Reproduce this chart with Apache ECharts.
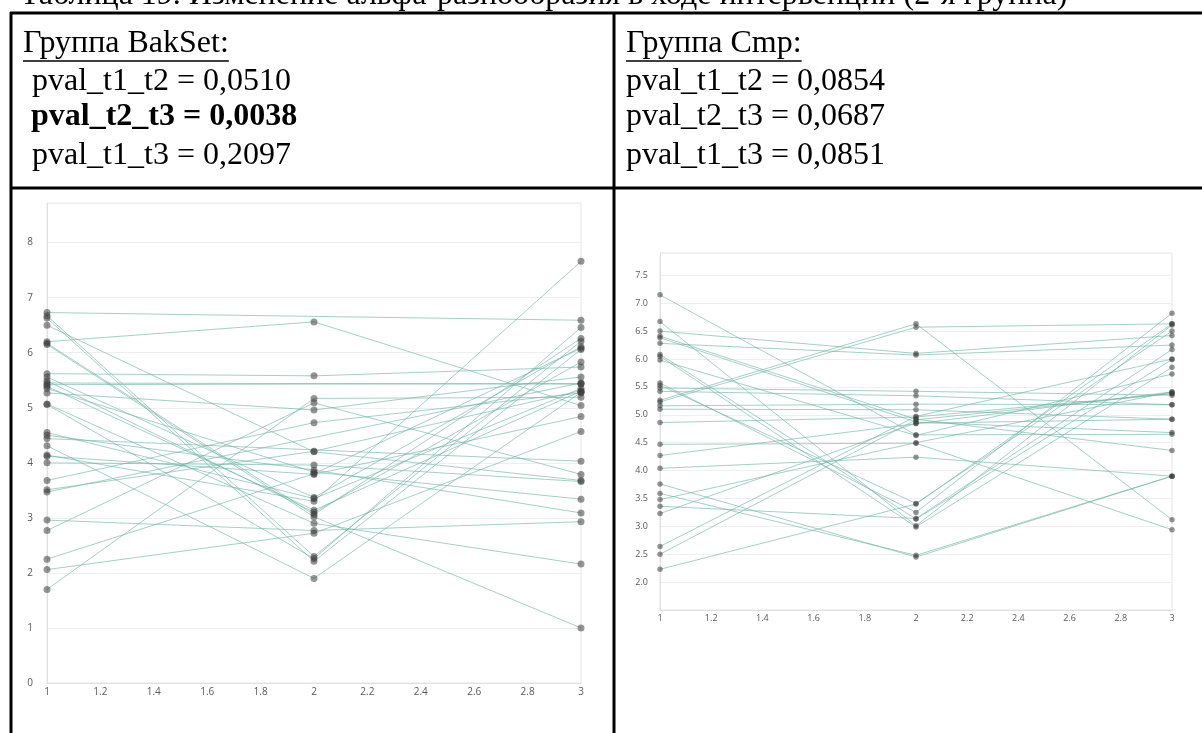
<!DOCTYPE html>
<html><head><meta charset="utf-8">
<script src="https://cdn.jsdelivr.net/npm/echarts@6/dist/echarts.min.js"></script>
<style>html,body{margin:0;padding:0;background:#fff}#c{width:1202px;height:733px}</style>
</head><body><div id="c"></div>
<script>
// ---- data ----
const titleText = 'Таблица 19. Изменение альфа-разнообразия в ходе интервенции (2-я группа)';
const leftHeader = 'Группа BakSet:';
const leftLines = [' pval_t1_t2 = 0,0510', 'pval_t2_t3 = 0,0038', ' pval_t1_t3 = 0,2097'];
const rightHeader = 'Группа Cmp:';
const rightLines = ['pval_t1_t2 = 0,0854', 'pval_t2_t3 = 0,0687', 'pval_t1_t3 = 0,0851'];

const timePoints = [1, 2, 3];

const bakT1 = [6.73,6.67,6.63,6.50,6.20,6.17,6.15,5.62,5.56,5.49,5.45,5.42,5.39,5.35,5.27,5.07,5.06,4.55,4.50,4.44,4.31,4.14,4.12,4.00,3.68,3.51,3.47,2.96,2.77,2.25,2.06,1.70];
const bakT2 = [null,2.30,2.21,4.20,6.56,3.06,3.02,5.58,3.37,3.10,null,null,3.14,3.83,4.96,2.90,2.26,3.35,3.87,null,1.90,3.30,3.79,3.96,4.73,4.21,null,2.77,5.09,3.80,2.72,5.17];
const bakT3 = [6.59,6.21,6.06,3.68,5.04,6.26,1.00,5.74,6.11,5.83,5.43,5.44,5.30,3.34,5.56,2.16,6.46,5.35,3.09,4.03,5.28,7.66,4.84,3.66,5.27,5.31,5.45,2.93,3.79,6.08,4.57,5.19];

const cmpT1 = [7.15,6.67,6.50,6.41,6.38,6.28,6.08,6.05,5.98,5.57,5.53,5.48,5.42,5.26,5.23,5.16,5.10,4.86,4.47,4.27,4.04,3.76,3.59,3.48,3.36,3.23,2.64,2.50,2.23];
const cmpT2 = [4.64,3.01,6.10,4.92,4.87,6.07,3.13,2.99,4.63,3.25,3.41,5.42,5.34,6.63,6.57,5.19,5.09,4.96,4.49,4.84,4.24,2.45,2.48,4.50,3.14,4.85,4.97,4.91,3.40];
const cmpT3 = [4.65,6.61,6.42,4.36,4.68,6.25,5.99,5.85,5.73,6.82,6.50,5.35,5.18,3.12,6.63,5.18,4.92,5.38,2.94,5.41,3.90,3.90,3.90,5.41,6.17,4.92,6.00,5.38,6.63];

const bakXTicks = {min: 1, max: 3, interval: 0.2};
const bakYTicks = {min: 0, max: 8.72, interval: 1};
const cmpXTicks = {min: 1, max: 3, interval: 0.2};
const cmpYTicks = {min: 1.5, max: 7.9, interval: 0.5};

// ---- build ----
const LINE_COLOR = 'rgba(110,178,162,0.62)';
const DOT_COLOR = 'rgba(60,60,60,0.68)';
const SERIF = '"Liberation Serif","Times New Roman",serif';
const SANS = '"Open Sans","Noto Sans",sans-serif';

function rowsToSeries(t1, t2, t3, axisIdx, sym) {
  const out = [];
  const cols = [t1, t2, t3];
  for (let i = 0; i < t1.length; i++) {
    const pts = [];
    cols.forEach((c, k) => { if (c[i] != null) pts.push([timePoints[k], c[i]]); });
    out.push({type: 'line', xAxisIndex: axisIdx, yAxisIndex: axisIdx, data: pts,
      showSymbol: false, silent: true, z: 2,
      lineStyle: {color: LINE_COLOR, width: 1}});
  }
  const dots = [];
  cols.forEach((c, k) => c.forEach(v => { if (v != null) dots.push([timePoints[k], v]); }));
  out.push({type: 'scatter', xAxisIndex: axisIdx, yAxisIndex: axisIdx, data: dots,
    symbolSize: sym, z: 3, silent: true, itemStyle: {color: DOT_COLOR}});
  return out;
}

function measure(text, font) {
  const ctx = document.createElement('canvas').getContext('2d');
  ctx.font = font; return ctx.measureText(text).width;
}

const FS = 32;
const fontN = FS + 'px ' + SERIF;
const fontB = 'bold ' + FS + 'px ' + SERIF;

const graphics = [];
function txt(x, y, s, font) {
  graphics.push({type: 'text', x: x, y: y, silent: true,
    style: {text: s, font: font, fill: '#000', verticalAlign: 'middle', align: 'left'}});
}
function ln(x1, y1, x2, y2, w) {
  graphics.push({type: 'line', silent: true, shape: {x1, y1, x2, y2},
    style: {stroke: '#000', lineWidth: w}});
}
// title (cut off at top)
txt(20, -4, titleText, fontN);
// table borders
ln(10, 13, 1202, 13, 3);
ln(11, 12, 11, 733, 3);
ln(614, 12, 614, 733, 3);
ln(10, 188, 1202, 188, 3);
// cell text (vertical middles)
const lineY = [44, 82, 117, 156];
txt(23, lineY[0], leftHeader, fontN);
const lw = measure(leftHeader, fontN);
ln(23, 61, 23 + lw, 61, 1.5);
txt(24, lineY[1], leftLines[0], fontN);
txt(31, lineY[2], leftLines[1], fontB);
txt(24, lineY[3], leftLines[2], fontN);
txt(626, lineY[0], rightHeader, fontN);
const rw = measure(rightHeader, fontN);
ln(626, 61, 626 + rw, 61, 1.5);
txt(626, lineY[1], rightLines[0], fontN);
txt(626, lineY[2], rightLines[1], fontN);
txt(626, lineY[3], rightLines[2], fontN);

function fmtTick(v) { return String(+v.toFixed(1)); }

const option = {
  animation: false,
  backgroundColor: '#fff',
  grid: [
    {left: 47, right: 1202 - 581, top: 203, bottom: 733 - 683, show: true, borderColor: '#e6e6e6', borderWidth: 1, containLabel: false},
    {left: 660, right: 1202 - 1172, top: 253, bottom: 733 - 610, show: true, borderColor: '#e6e6e6', borderWidth: 1, containLabel: false}
  ],
  xAxis: [
    {type: 'value', gridIndex: 0, min: bakXTicks.min, max: bakXTicks.max, interval: bakXTicks.interval,
     axisLine: {show: true, lineStyle: {color: '#e0e0e0'}}, axisTick: {show: false}, splitLine: {show: false},
     axisLabel: {color: '#595959', fontSize: 10, fontFamily: SANS, margin: 4, formatter: fmtTick}},
    {type: 'value', gridIndex: 1, min: cmpXTicks.min, max: cmpXTicks.max, interval: cmpXTicks.interval,
     axisLine: {show: true, lineStyle: {color: '#e0e0e0'}}, axisTick: {show: false}, splitLine: {show: false},
     axisLabel: {color: '#595959', fontSize: 9, fontFamily: SANS, margin: 4, formatter: fmtTick}}
  ],
  yAxis: [
    {type: 'value', gridIndex: 0, min: bakYTicks.min, max: bakYTicks.max, interval: bakYTicks.interval,
     axisLine: {show: true, lineStyle: {color: '#e0e0e0'}}, axisTick: {show: false},
     splitLine: {show: true, lineStyle: {color: '#efefef'}},
     axisLabel: {color: '#595959', fontSize: 10, fontFamily: SANS, margin: 14,
       formatter: v => Number.isInteger(Math.round(v * 1000) / 1000) ? String(Math.round(v)) : ''}},
    {type: 'value', gridIndex: 1, min: cmpYTicks.min, max: cmpYTicks.max, interval: cmpYTicks.interval,
     axisLine: {show: true, lineStyle: {color: '#e0e0e0'}}, axisTick: {show: false},
     splitLine: {show: true, lineStyle: {color: '#efefef'}},
     axisLabel: {color: '#595959', fontSize: 9, fontFamily: SANS, margin: 12,
       formatter: v => (v >= 1.99 && v <= 7.51) ? v.toFixed(1) : ''}}
  ],
  graphic: graphics,
  series: [].concat(rowsToSeries(bakT1, bakT2, bakT3, 0, 7), rowsToSeries(cmpT1, cmpT2, cmpT3, 1, 5.5))
};
const chart = echarts.init(document.getElementById('c'), null, {renderer: 'canvas'});
chart.setOption(option);
</script></body></html>
